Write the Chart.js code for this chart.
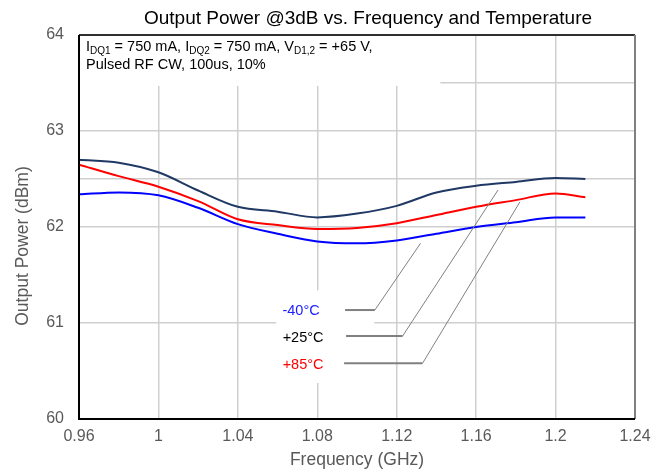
<!DOCTYPE html>
<html>
<head>
<meta charset="utf-8">
<script src="https://cdn.jsdelivr.net/npm/chart.js@4.4.0/dist/chart.umd.min.js"></script>
<style>
  html, body { margin: 0; padding: 0; background: #fff; }
  #wrap { width: 661px; height: 473px; }
</style>
</head>
<body>
<div id="wrap"><canvas id="chart"></canvas></div>
<script>
// frequency points (GHz)
const freqs = [0.96, 0.98, 1.00, 1.02, 1.04, 1.06, 1.08, 1.10, 1.12, 1.14, 1.16, 1.18, 1.20, 1.215];
// output power (dBm) per temperature
const pMinus40 = [62.34, 62.36, 62.33, 62.20, 62.03, 61.93, 61.85, 61.83, 61.86, 61.93, 62.00, 62.05, 62.10, 62.10];
const pPlus25  = [62.70, 62.67, 62.57, 62.38, 62.21, 62.16, 62.10, 62.14, 62.22, 62.36, 62.43, 62.47, 62.51, 62.50];
const pPlus85  = [62.65, 62.53, 62.42, 62.27, 62.08, 62.02, 61.98, 61.99, 62.04, 62.125, 62.21, 62.28, 62.35, 62.31];

// tick values
const xTicks = [0.96, 1.00, 1.04, 1.08, 1.12, 1.16, 1.20, 1.24];
const yTicks = [60, 61, 62, 62.5, 63, 63.5, 64];

// leader lines from the labels to the curves
const leadM40X = [1.094, 1.109, 1.132];
const leadM40Y = [61.135, 61.135, 61.83];
const lead25X  = [1.0945, 1.123, 1.171];
const lead25Y  = [60.865, 60.865, 62.385];
const lead85X  = [1.0935, 1.133, 1.182];
const lead85Y  = [60.58, 60.58, 62.26];

const FONT = '"Liberation Sans", Arial, sans-serif';
const GRAY = '#595959';

const toPts = (xs, ys) => xs.map((v, i) => ({ x: v, y: ys[i] }));

function curve(label, data, color) {
    return {
        label: label,
        data: toPts(freqs, data),
        borderColor: color,
        borderWidth: 2,
        pointRadius: 0,
        fill: false,
        cubicInterpolationMode: 'monotone'
    };
}

function leader(xs, ys) {
    return {
        label: 'leader',
        data: toPts(xs, ys),
        borderColor: '#808080',
        borderWidth: 1,
        pointRadius: 0,
        tension: 0,
        segment: {
            borderWidth: c => c.p0DataIndex === 0 ? 2 : 1
        }
    };
}

// white boxes behind the note and the labels (they hide the grid)
const boxPlugin = {
    id: 'boxes',
    beforeDatasetsDraw(chart) {
        const { ctx, scales: { x, y } } = chart;
        ctx.save();
        ctx.fillStyle = '#fff';
        let x0 = x.getPixelForValue(0.96), x1 = x.getPixelForValue(1.1415);
        let y0 = y.getPixelForValue(64), y1 = y.getPixelForValue(63.48);
        ctx.fillRect(x0 + 1, y0 + 1, x1 - x0, y1 - y0);
        x0 = x.getPixelForValue(1.0593); x1 = x.getPixelForValue(1.1087);
        y0 = y.getPixelForValue(61.34); y1 = y.getPixelForValue(60.375);
        ctx.fillRect(x0, y0, x1 - x0, y1 - y0);
        ctx.restore();
    }
};

function drawRich(ctx, parts, x, yb) {
    parts.forEach(([t, sub]) => {
        ctx.font = (sub ? '10px ' : '14.5px ') + FONT;
        ctx.fillText(t, x, sub ? yb + 3 : yb);
        x += ctx.measureText(t).width;
    });
}

const textPlugin = {
    id: 'texts',
    afterDraw(chart) {
        const { ctx, chartArea: a, scales: { x, y } } = chart;
        ctx.save();
        // frame
        ctx.lineWidth = 2;
        ctx.strokeStyle = '#303030';
        ctx.beginPath(); ctx.moveTo(a.left, a.top); ctx.lineTo(a.right, a.top); ctx.stroke();
        ctx.strokeStyle = '#808080';
        ctx.beginPath(); ctx.moveTo(a.right, a.top); ctx.lineTo(a.right, a.bottom); ctx.stroke();
        ctx.strokeStyle = '#000';
        ctx.beginPath(); ctx.moveTo(a.left, a.top); ctx.lineTo(a.left, a.bottom); ctx.lineTo(a.right, a.bottom); ctx.stroke();

        // title
        ctx.fillStyle = '#000';
        ctx.font = '19px ' + FONT;
        ctx.textAlign = 'center';
        ctx.textBaseline = 'middle';
        ctx.fillText('Output Power @3dB vs. Frequency and Temperature', 368, 19);

        // y axis title
        ctx.save();
        ctx.translate(23, 246);
        ctx.rotate(-Math.PI / 2);
        ctx.fillStyle = GRAY;
        ctx.font = '17.5px ' + FONT;
        ctx.fillText('Output Power (dBm)', 0, 0);
        ctx.restore();

        // test conditions note
        ctx.textAlign = 'left';
        ctx.textBaseline = 'alphabetic';
        ctx.fillStyle = '#000';
        drawRich(ctx, [['I'], ['DQ1', 1], [' = 750 mA, I'], ['DQ2', 1], [' = 750 mA, V'], ['D1,2', 1], [' = +65 V,']], a.left + 7, 51);
        drawRich(ctx, [['Pulsed RF CW, 100us, 10%']], a.left + 7, 69);

        // temperature labels
        ctx.textAlign = 'center';
        ctx.textBaseline = 'middle';
        ctx.font = '14.5px ' + FONT;
        const lx = x.getPixelForValue(1.094) - 44;
        ctx.fillStyle = '#2020ff';
        ctx.fillText('-40°C', lx, y.getPixelForValue(leadM40Y[0]) + 1);
        ctx.fillStyle = '#000';
        ctx.fillText('+25°C', lx + 2, y.getPixelForValue(lead25Y[0]) + 2);
        ctx.fillStyle = '#ff0000';
        ctx.fillText('+85°C', lx + 2, y.getPixelForValue(lead85Y[0]) + 2);
        ctx.restore();
    }
};

new Chart(document.getElementById('chart'), {
    type: 'line',
    data: {
        datasets: [
            leader(leadM40X, leadM40Y),
            leader(lead25X, lead25Y),
            leader(lead85X, lead85Y),
            curve('-40°C', pMinus40, '#0000ff'),
            curve('+85°C', pPlus85, '#ff0000'),
            curve('+25°C', pPlus25, '#1f3864')
        ]
    },
    options: {
        responsive: true,
        maintainAspectRatio: false,
        animation: false,
        layout: { padding: { top: 35, right: 26, left: 0, bottom: 0 } },
        plugins: {
            legend: { display: false },
            tooltip: { enabled: false }
        },
        scales: {
            x: {
                type: 'linear',
                min: 0.96,
                max: 1.24,
                afterBuildTicks: s => { s.ticks = xTicks.map(v => ({ value: v })); },
                afterFit: s => { s.height = 54; },
                border: { display: false },
                grid: { color: '#cfcfcf', lineWidth: 1.5, drawTicks: false },
                ticks: {
                    padding: 8,
                    color: GRAY,
                    font: { size: 16, family: FONT },
                    maxRotation: 0,
                    callback: v => String(+v.toFixed(2))
                },
                title: {
                    display: true,
                    text: 'Frequency (GHz)',
                    color: GRAY,
                    font: { size: 17.5, family: FONT },
                    padding: { top: 0, bottom: 2 }
                }
            },
            y: {
                min: 60,
                max: 64,
                afterBuildTicks: s => { s.ticks = yTicks.map(v => ({ value: v })); },
                afterFit: s => { s.width = 79; },
                border: { display: false },
                grid: { color: '#cfcfcf', lineWidth: 1.5, drawTicks: false },
                ticks: {
                    padding: 15,
                    color: GRAY,
                    font: { size: 16, family: FONT },
                    callback: v => Number.isInteger(v) ? String(v) : ''
                }
            }
        }
    },
    plugins: [boxPlugin, textPlugin]
});
</script>
</body>
</html>
